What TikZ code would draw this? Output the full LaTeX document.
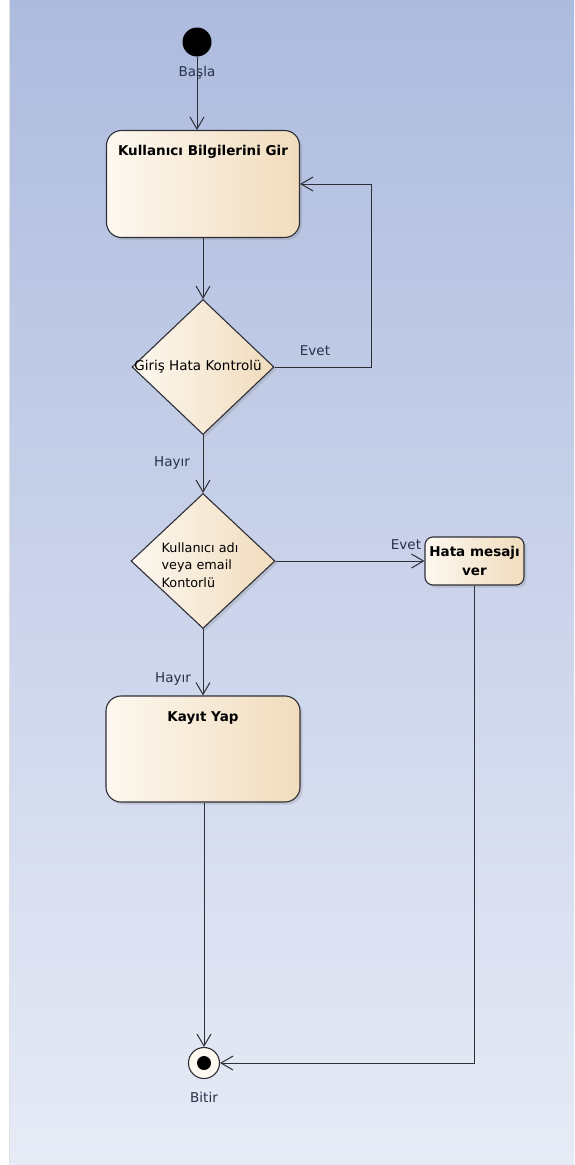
\documentclass[tikz,border=0pt]{standalone}
\usepackage{fontspec}
\setmainfont{DejaVu Sans}
\usetikzlibrary{arrows.meta,shapes.geometric,shadows}

\definecolor{bgtop}{HTML}{ADBBDE}
\definecolor{bgbot}{HTML}{E7EBF6}
\definecolor{fillL}{HTML}{FDF8F0}
\definecolor{fillR}{HTML}{F1DCBD}
\definecolor{edge}{HTML}{2E2E36}
\definecolor{lbl}{HTML}{27314A}

\tikzset{
  txt/.style={font=\fontsize{13.5}{16}\selectfont, inner sep=0pt},
  dtxt/.style={font=\fontsize{12.8}{17.5}\selectfont, inner sep=0pt},
  btxt/.style={font=\fontsize{13.5}{19}\bfseries\selectfont, inner sep=0pt},
  tag/.style={txt, text=lbl},
  flow/.style={draw=edge, line width=1pt,
    -{Straight Barb[length=12pt,width=14pt,line width=1pt]}},
  shade box/.style={left color=fillL, right color=fillR,
    drop shadow={opacity=0.25, shadow xshift=2.5pt, shadow yshift=-2.5pt}},
  action/.style={draw=edge, line width=1.1pt, rounded corners=15pt,
    shade box, inner sep=0pt},
  smallaction/.style={draw=edge, line width=1.1pt, rounded corners=8pt,
    shade box, inner sep=0pt, btxt, align=center},
  decision/.style={diamond, draw=edge, line width=1.1pt, shade box,
    inner sep=0pt},
  initial/.style={circle, fill=black, minimum size=29pt, inner sep=0pt},
  final/.style={circle, draw=edge, line width=1.1pt, fill=fillL,
    minimum size=31pt, inner sep=0pt,
    path picture={\fill[black] (path picture bounding box.center) circle (7pt);}},
}

\begin{document}
\begin{tikzpicture}[x=1pt,y=-1pt]
  % page and graded backdrop
  \useasboundingbox (0,0) rectangle (574,1165);
  \fill[white] (0,0) rectangle (574,1165);
  \shade[top color=bgtop, bottom color=bgbot] (9,0) rectangle (574,1164);
  \draw[black!12, line width=0.6pt] (9,0) -- (9,1164);

  % nodes
  \node[initial] (start) at (197,42) {};
  \node[tag] (lstart) at (197,73) {Başla};

  \node[action, minimum width=193pt, minimum height=107pt,
        label={[btxt, anchor=north, yshift=-15pt]north:Kullanıcı Bilgilerini Gir}]
        (input) at (203,184) {};

  \node[decision, minimum width=142pt, minimum height=135pt,
        label={[txt, xshift=-5pt]center:Giriş Hata Kontrolü}] (check1) at (203,367) {};

  \node[decision, minimum width=144pt, minimum height=135pt,
        label={[dtxt, align=left, xshift=-3pt, yshift=-4pt]center:Kullanıcı adı\\veya email\\Kontorlü}]
        (check2) at (203,561) {};

  \node[smallaction, minimum width=99pt, minimum height=48pt]
        (hata) at (474.5,561) {Hata mesajı\\ver};

  \node[action, minimum width=194pt, minimum height=106pt,
        label={[btxt, anchor=north, yshift=-16pt]north:Kayıt Yap}]
        (kayit) at (203,749) {};

  \node[final] (end) at (204,1063) {};
  \node[tag] (lend) at (204,1097) {Bitir};

  % guard labels
  \node[tag] (evet1) at (315,351) {Evet};
  \node[tag] (hayir1) at (172,463) {Hayır};
  \node[tag] (evet2) at (406,545) {Evet};
  \node[tag] (hayir2) at (173,679) {Hayır};

  % connectors
  \draw[flow] (start) -- (start |- input.north);
  \draw[flow] (input) -- (check1);
  \draw[flow] (check1.east) -- ++(97,0) |- (input.east);
  \draw[flow] (check1) -- (check2);
  \draw[flow] (check2.east) -- (hata.west);
  \draw[flow] (check2) -- (kayit);
  \draw[flow] (kayit.south -| end) -- (end);
  \draw[flow] (hata.south) |- (end.east);
\end{tikzpicture}
\end{document}
